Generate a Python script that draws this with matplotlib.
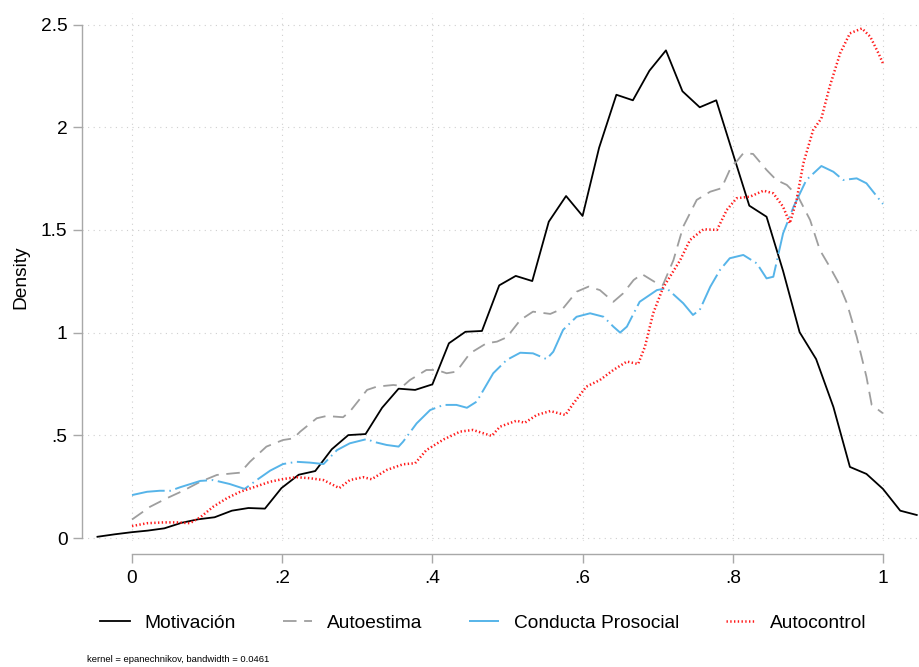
import matplotlib
matplotlib.use("Agg")
import matplotlib.pyplot as plt

plt.rcParams['font.family'] = ['Liberation Sans', 'DejaVu Sans']

# Motivación (kdensity evaluated at 50 points)
mot_x = [-0.046, -0.023, -0.001, 0.021, 0.043, 0.066, 0.088, 0.110, 0.133, 0.155,
         0.177, 0.199, 0.222, 0.244, 0.266, 0.288, 0.311, 0.333, 0.355, 0.377,
         0.400, 0.422, 0.444, 0.466, 0.489, 0.511, 0.533, 0.555, 0.578, 0.600,
         0.622, 0.645, 0.667, 0.689, 0.711, 0.733, 0.756, 0.778, 0.800, 0.822,
         0.845, 0.867, 0.889, 0.911, 0.934, 0.956, 0.978, 1.000, 1.023, 1.045]
mot_y = [0.006, 0.018, 0.028, 0.036, 0.047, 0.074, 0.091, 0.101, 0.133, 0.146,
         0.143, 0.243, 0.308, 0.326, 0.432, 0.501, 0.506, 0.634, 0.727, 0.721,
         0.748, 0.948, 1.004, 1.008, 1.230, 1.276, 1.251, 1.540, 1.665, 1.568,
         1.900, 2.158, 2.131, 2.275, 2.374, 2.175, 2.097, 2.131, 1.874, 1.618,
         1.564, 1.300, 1.002, 0.871, 0.638, 0.346, 0.312, 0.239, 0.133, 0.112]

# Autoestima
aut_x = [0.000, 0.024, 0.046, 0.068, 0.091, 0.113, 0.135, 0.144, 0.157, 0.179,
         0.201, 0.215, 0.224, 0.246, 0.259, 0.281, 0.290, 0.313, 0.326, 0.348,
         0.361, 0.370, 0.392, 0.406, 0.419, 0.432, 0.450, 0.472, 0.486, 0.499,
         0.517, 0.534, 0.557, 0.574, 0.592, 0.608, 0.623, 0.641, 0.654, 0.668,
         0.679, 0.699, 0.707, 0.721, 0.734, 0.752, 0.770, 0.785, 0.796, 0.814,
         0.827, 0.845, 0.858, 0.872, 0.887, 0.903, 0.916, 0.929, 0.940, 0.952,
         0.965, 0.978, 0.985, 1.000]
aut_y = [0.090, 0.152, 0.193, 0.230, 0.274, 0.307, 0.315, 0.318, 0.371, 0.445,
         0.477, 0.485, 0.518, 0.583, 0.594, 0.588, 0.615, 0.721, 0.737, 0.745,
         0.740, 0.769, 0.818, 0.818, 0.802, 0.810, 0.899, 0.948, 0.956, 0.977,
         1.061, 1.102, 1.091, 1.118, 1.199, 1.224, 1.207, 1.150, 1.191, 1.256,
         1.285, 1.240, 1.232, 1.353, 1.516, 1.646, 1.686, 1.703, 1.792, 1.873,
         1.870, 1.792, 1.743, 1.719, 1.662, 1.548, 1.402, 1.321, 1.248, 1.143,
         0.980, 0.785, 0.648, 0.607]

# Conducta Prosocial
pro_x = [0.000, 0.020, 0.037, 0.051, 0.064, 0.091, 0.108, 0.130, 0.150, 0.166,
         0.184, 0.201, 0.219, 0.237, 0.255, 0.273, 0.290, 0.313, 0.321, 0.339,
         0.355, 0.361, 0.379, 0.397, 0.415, 0.432, 0.446, 0.459, 0.481, 0.499,
         0.517, 0.534, 0.552, 0.561, 0.574, 0.592, 0.610, 0.628, 0.641, 0.650,
         0.659, 0.676, 0.699, 0.712, 0.734, 0.747, 0.756, 0.770, 0.783, 0.796,
         0.814, 0.832, 0.845, 0.854, 0.867, 0.881, 0.898, 0.918, 0.934, 0.947,
         0.965, 0.978, 1.000]
pro_y = [0.209, 0.225, 0.230, 0.230, 0.247, 0.278, 0.282, 0.263, 0.239, 0.282,
         0.328, 0.360, 0.371, 0.367, 0.360, 0.428, 0.461, 0.482, 0.469, 0.453,
         0.445, 0.469, 0.558, 0.623, 0.648, 0.648, 0.634, 0.664, 0.802, 0.867,
         0.902, 0.899, 0.871, 0.907, 1.013, 1.077, 1.094, 1.077, 1.029, 1.000,
         1.029, 1.150, 1.207, 1.216, 1.143, 1.086, 1.110, 1.223, 1.305, 1.362,
         1.378, 1.337, 1.264, 1.272, 1.483, 1.613, 1.743, 1.811, 1.783, 1.743,
         1.751, 1.727, 1.626]

# Autocontrol
ctl_x = [0.000, 0.020, 0.042, 0.060, 0.077, 0.091, 0.108, 0.126, 0.144, 0.162,
         0.184, 0.201, 0.219, 0.237, 0.255, 0.276, 0.290, 0.308, 0.319, 0.339,
         0.361, 0.377, 0.392, 0.415, 0.437, 0.454, 0.479, 0.490, 0.512, 0.523,
         0.539, 0.557, 0.577, 0.588, 0.605, 0.623, 0.641, 0.659, 0.674, 0.683,
         0.694, 0.707, 0.730, 0.743, 0.761, 0.779, 0.792, 0.805, 0.823, 0.841,
         0.854, 0.867, 0.876, 0.885, 0.894, 0.907, 0.918, 0.929, 0.943, 0.956,
         0.972, 0.983, 0.994, 1.000]
ctl_y = [0.058, 0.072, 0.076, 0.076, 0.072, 0.101, 0.152, 0.193, 0.225, 0.247,
         0.274, 0.287, 0.296, 0.291, 0.282, 0.243, 0.282, 0.296, 0.286, 0.331,
         0.359, 0.364, 0.428, 0.480, 0.518, 0.526, 0.497, 0.542, 0.571, 0.561,
         0.599, 0.618, 0.599, 0.656, 0.737, 0.769, 0.818, 0.859, 0.847, 0.931,
         1.094, 1.217, 1.353, 1.451, 1.503, 1.500, 1.597, 1.654, 1.662, 1.691,
         1.678, 1.613, 1.532, 1.646, 1.824, 1.986, 2.043, 2.197, 2.360, 2.457,
         2.481, 2.441, 2.360, 2.311]

xticks = [0, 0.2, 0.4, 0.6, 0.8, 1]
xtick_labels = ["0", ".2", ".4", ".6", ".8", "1"]
yticks = [0, 0.5, 1, 1.5, 2, 2.5]
ytick_labels = ["0", ".5", "1", "1.5", "2", "2.5"]

W, H = 919, 667
fig = plt.figure(figsize=(W / 100, H / 100), dpi=100)
ax = fig.add_axes([82 / W, 1 - 541 / H, (919 - 82) / W, (541 - 13) / H])

axis_col = "#a8a8a8"
ax.plot(mot_x, mot_y, color="black", lw=1.3, label="Motivación")
ax.plot(aut_x, aut_y, color="#9e9e9e", lw=1.3, linestyle=(0, (7.5, 4.2)), label="Autoestima")
ax.plot(pro_x, pro_y, color="#56b4e9", lw=1.4,
        linestyle=(0, (17, 2.4, 0.8, 2.4)), label="Conducta Prosocial")
ax.plot(ctl_x, ctl_y, color="#ff1a1a", lw=1.8, linestyle=(0, (0.55, 0.95)), label="Autocontrol")

ax.set_xlim(-0.0666, 1.048)
ax.set_ylim(-0.0146, 2.556)

ax.set_xticks(xticks)
ax.set_xticklabels(xtick_labels)
ax.set_yticks(yticks)
ax.set_yticklabels(ytick_labels)

ax.grid(True, color="#cfcfcf", lw=0.8, linestyle=(0, (1, 4)))
ax.set_axisbelow(True)

for s in ["top", "right"]:
    ax.spines[s].set_visible(False)
ax.spines["left"].set_bounds(0, 2.5)
ax.spines["bottom"].set_bounds(0, 1)
ax.spines["bottom"].set_position(("outward", 9.4))
for s in ["left", "bottom"]:
    ax.spines[s].set_color(axis_col)
    ax.spines[s].set_linewidth(1.0)

ax.tick_params(axis="both", colors=axis_col, length=6.5, width=1.0, labelsize=13.8,
               labelcolor="black")
ax.tick_params(axis="y", pad=4)
ax.tick_params(axis="x", pad=5)

ax.set_ylabel("Density", fontsize=13.8, labelpad=8)

fig.legend(loc="center", bbox_to_anchor=(483.5 / W, 1 - 623 / H), ncol=4, frameon=False,
           fontsize=13.8, handlelength=1.54, handletextpad=0.77, columnspacing=2.45)

fig.text(87 / W, 1 - 660 / H, "kernel = epanechnikov, bandwidth = 0.0461", fontsize=6.8,
         va="center", ha="left")

fig.savefig("out.png", dpi=100)
